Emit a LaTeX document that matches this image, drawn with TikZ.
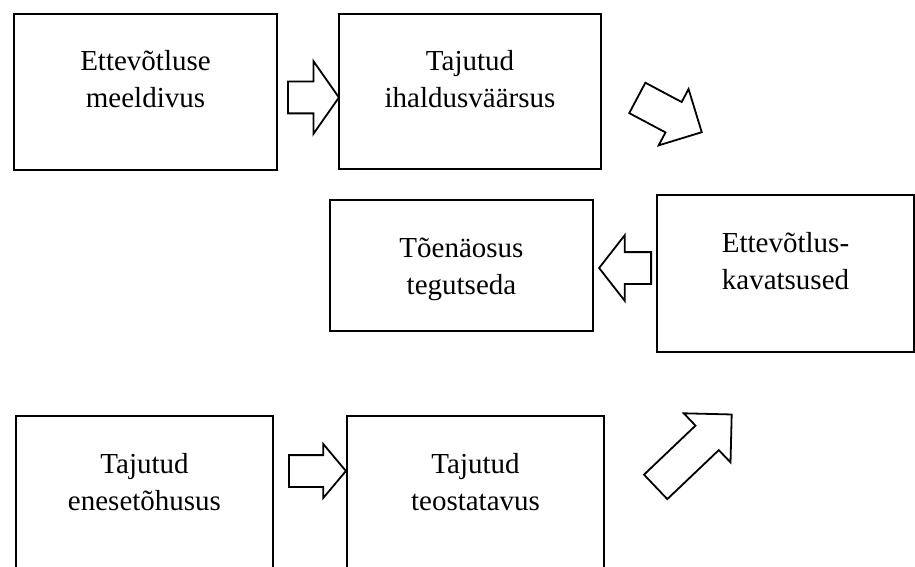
\documentclass[tikz,border=0pt]{standalone}
\usepackage{fontspec}
\setmainfont{Liberation Serif}
\usepackage{tikz}
\usetikzlibrary{shapes.arrows}

\begin{document}
\begin{tikzpicture}[x=1pt,y=-1pt,
    box/.style={draw,line width=2pt,rectangle,inner sep=0pt,anchor=north west},
    words/.style={font=\fontsize{29}{37}\selectfont,align=center,text width=250pt,inner sep=0pt,anchor=base},
    blockarrow/.style={draw,line width=1.8pt,shape=single arrow,inner xsep=0pt,anchor=tail,
        single arrow head indent=0pt}]
        \useasboundingbox (0,0) rectangle (915,567);
        % Top row
        \node[box,minimum width=263pt,minimum height=156pt] (ettevotluse) at (13,13) {};
        \node[words] (ettevotlusetxt) at ([yshift=-58pt]ettevotluse.north) {Ettevõtluse\\meeldivus};
        \node[box,minimum width=262pt,minimum height=155pt] (ihaldus) at (338,13) {};
        \node[words] (ihaldustxt) at ([yshift=-58pt]ihaldus.north) {Tajutud\\ihaldusväärsus};
        \node[blockarrow,minimum height=51pt,inner ysep=15pt,single arrow head extend=20.5pt,
            single arrow tip angle=110] (arrA) at (287,97.5) {};
        \node[blockarrow,rotate=-28,minimum height=73pt,inner ysep=16.3pt,single arrow head extend=14.7pt,
            single arrow tip angle=90] (arrB) at (636.5,97.5) {};
        % Middle row
        \node[box,minimum width=263pt,minimum height=131pt] (toenaosus) at (329,199) {};
        \node[words] (toenaosustxt) at ([yshift=-58pt]toenaosus.north) {Tõenäosus\\tegutseda};
        \node[box,minimum width=257pt,minimum height=157pt] (kavatsused) at (656,194) {};
        \node[words] (kavatsusedtxt) at ([yshift=-58pt]kavatsused.north) {Ettevõtlus-\\kavatsused};
        \node[blockarrow,rotate=180,minimum height=52pt,inner ysep=15pt,single arrow head extend=17pt,
            single arrow tip angle=104] (arrC) at (652,268) {};
        % Bottom row
        \node[box,minimum width=257pt,minimum height=170pt] (enesetohusus) at (15,415) {};
        \node[words] (enesetohusustxt) at ([yshift=-58pt]enesetohusus.north) {Tajutud\\enesetõhusus};
        \node[box,minimum width=257pt,minimum height=170pt] (teostatavus) at (346,415) {};
        \node[words] (teostatavustxt) at ([yshift=-58pt]teostatavus.north) {Tajutud\\teostatavus};
        \node[blockarrow,minimum height=57pt,inner ysep=15pt,single arrow head extend=11pt,
            single arrow tip angle=100] (arrD) at (288,471) {};
        \node[blockarrow,rotate=43.6,minimum height=105pt,inner ysep=16pt,single arrow head extend=17pt,
            single arrow tip angle=90] (arrE) at (655,487.5) {};
    \end{tikzpicture}
\end{document}
